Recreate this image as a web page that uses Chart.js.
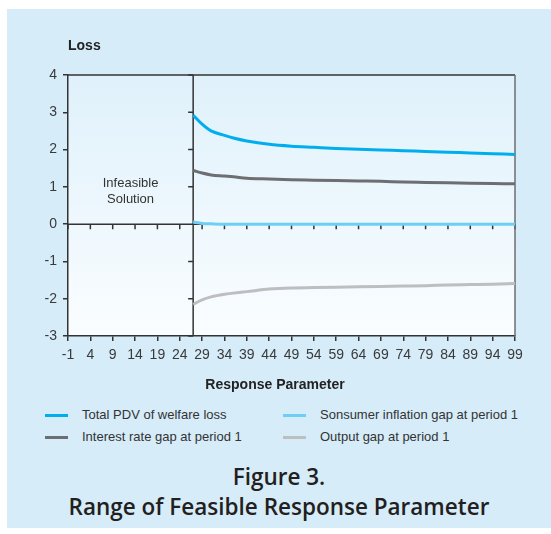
<!DOCTYPE html>
<html>
<head>
<meta charset="utf-8">
<script src="https://cdn.jsdelivr.net/npm/chart.js@4.4.1/dist/chart.umd.min.js"></script>
<style>
  html, body { margin: 0; padding: 0; background: #ffffff; }
  body { width: 551px; height: 534px; position: relative; overflow: hidden; }
  #panel { position: absolute; left: 7px; top: 9px; width: 544px; height: 519px; background: #d6ecf9; }
  #graph-container { position: absolute; left: 0; top: 0; }
  .legend-item { position: absolute; height: 20px; line-height: 20px; font-family: "Liberation Sans Narrow", "Liberation Sans", sans-serif;
    font-size: 13px; color: #333333; white-space: nowrap; }
  .legend-item .swatch { position: absolute; left: 0; top: 9px; width: 23px; height: 3px; }
  .legend-item .label { position: absolute; left: 37px; top: 0; }
  #caption { position: absolute; left: 7px; width: 544px; top: 462px; text-align: center; font-family: "Open Sans", sans-serif;
    font-weight: 600; font-size: 22.5px; line-height: 30px; color: #231f20; }
</style>
</head>
<body>
<div id="panel"></div>
<canvas id="graph-container" width="551" height="400"></canvas>
<div id="legend"></div>
<div id="caption">Figure 3.<br>Range of Feasible Response Parameter</div>
<script>
'use strict';
// response parameter values where the model has a feasible solution
var paramValues = [27, 29, 31, 34, 36, 39, 44, 49, 54, 59, 64, 69, 74, 79, 84, 89, 94, 99];
var totalPDV     = [2.92, 2.68, 2.50, 2.38, 2.31, 2.23, 2.14, 2.09, 2.06, 2.03, 2.01, 1.99, 1.97, 1.95, 1.93, 1.91, 1.89, 1.87];
var interestGap  = [1.44, 1.37, 1.32, 1.29, 1.27, 1.23, 1.21, 1.19, 1.18, 1.17, 1.16, 1.15, 1.13, 1.12, 1.11, 1.10, 1.09, 1.08];
var inflationGap = [0.06, 0.02, 0.01, 0.00, 0.00, 0.00, 0.00, 0.00, 0.00, 0.00, 0.00, 0.00, 0.00, 0.00, 0.00, 0.00, 0.00, 0.00];
var outputGap    = [-2.15, -2.03, -1.95, -1.88, -1.85, -1.81, -1.74, -1.71, -1.70, -1.69, -1.68, -1.67, -1.66, -1.65, -1.63, -1.62, -1.61, -1.59];

var xTicks = [-1, 4, 9, 14, 19, 24, 29, 34, 39, 44, 49, 54, 59, 64, 69, 74, 79, 84, 89, 94, 99];
var yTicks = [-3, -2, -1, 0, 1, 2, 3, 4];
var feasibleFrom = 27;

var seriesNames = ['Total PDV of welfare loss', 'Interest rate gap at period 1', 'Sonsumer inflation gap at period 1', 'Output gap at period 1'];
var seriesData = [totalPDV, interestGap, inflationGap, outputGap];
var seriesColors = ['#00aeef', '#6d6e71', '#6dcff6', '#bcbec0'];

var narrow = '"Liberation Sans Narrow", "Liberation Sans", sans-serif';
var axisColor = '#333333';

function toPoints(values) {
    var pts = [];
    for (var i = 0; i < paramValues.length; i++) {
        pts.push({ x: paramValues[i], y: values[i] });
    }
    return pts;
}

var datasets = [];
for (var i = 0; i < seriesNames.length; i++) {
    datasets.push({
        label: seriesNames[i],
        data: toPoints(seriesData[i]),
        borderColor: seriesColors[i],
        backgroundColor: seriesColors[i],
        borderWidth: 3,
        pointRadius: 0,
        cubicInterpolationMode: 'monotone',
        fill: false
    });
}
// draw the inflation line last so it sits on the zero line
var drawOrder = [3, 2, 4, 1];
datasets.forEach(function (d, i) { d.order = drawOrder[i]; });

var decorPlugin = {
    id: 'decor',
    beforeDraw: function (chart) {
        var ctx = chart.ctx, a = chart.chartArea;
        var g = ctx.createLinearGradient(0, a.top, 0, a.bottom);
        g.addColorStop(0, '#dff1fb');
        g.addColorStop(1, '#fafdff');
        ctx.save();
        ctx.fillStyle = g;
        ctx.fillRect(a.left, a.top, a.right - a.left, a.bottom - a.top);
        ctx.restore();
    },
    beforeDatasetsDraw: function (chart) {
        var ctx = chart.ctx, a = chart.chartArea;
        var xs = chart.scales.x, ys = chart.scales.y;
        var y0 = ys.getPixelForValue(0);
        var xf = xs.getPixelForValue(feasibleFrom);
        ctx.save();
        ctx.strokeStyle = axisColor;
        ctx.lineWidth = 1.5;
        // zero line with tick marks below it
        ctx.beginPath();
        ctx.moveTo(a.left, y0);
        ctx.lineTo(a.right, y0);
        xTicks.forEach(function (v) {
            var px = xs.getPixelForValue(v);
            ctx.moveTo(px, y0);
            ctx.lineTo(px, y0 + 5);
        });
        // boundary of the feasible region with ticks on its left
        ctx.moveTo(xf, a.top);
        ctx.lineTo(xf, a.bottom);
        yTicks.forEach(function (v) {
            var py = ys.getPixelForValue(v);
            ctx.moveTo(xf - 5, py);
            ctx.lineTo(xf, py);
        });
        ctx.stroke();
        // top and right frame
        ctx.beginPath();
        ctx.moveTo(a.left, a.top);
        ctx.lineTo(a.right, a.top);
        ctx.stroke();
        ctx.strokeStyle = '#6d6e71';
        ctx.beginPath();
        ctx.moveTo(a.right, a.top);
        ctx.lineTo(a.right, a.bottom);
        ctx.stroke();
        // infeasible note
        ctx.fillStyle = axisColor;
        ctx.font = '13px ' + narrow;
        ctx.textAlign = 'center';
        ctx.textBaseline = 'middle';
        var cx = xs.getPixelForValue(13);
        ctx.fillText('Infeasible', cx, ys.getPixelForValue(1.1));
        ctx.fillText('Solution', cx, ys.getPixelForValue(0.67));
        ctx.restore();
    },
    afterDraw: function (chart) {
        var ctx = chart.ctx, a = chart.chartArea;
        ctx.save();
        ctx.fillStyle = '#222222';
        ctx.font = 'bold 14px ' + narrow;
        ctx.textBaseline = 'middle';
        ctx.textAlign = 'left';
        ctx.fillText('Loss', a.left, 46);
        ctx.textAlign = 'center';
        ctx.fillText('Response Parameter', 275, 385);
        ctx.restore();
    }
};

var ctx = document.getElementById('graph-container');
var myChart = new Chart(ctx, {
    type: 'line',
    data: { datasets: datasets },
    options: {
        responsive: false,
        animation: false,
        devicePixelRatio: 1,
        layout: { padding: { left: 0, right: 36, top: 75, bottom: 0 } },
        plugins: { legend: { display: false }, tooltip: { enabled: false } },
        scales: {
            x: {
                type: 'linear',
                min: -1,
                max: 99,
                afterBuildTicks: function (scale) {
                    scale.ticks = xTicks.map(function (v) { return { value: v }; });
                },
                afterFit: function (scale) { scale.height = 64; },
                grid: { drawOnChartArea: false, drawTicks: true, tickLength: 5, color: axisColor, lineWidth: 1.5 },
                border: { color: axisColor, width: 1.5 },
                ticks: { autoSkip: false, maxRotation: 0, padding: 6, color: '#3a3a3a', font: { family: narrow, size: 14 } }
            },
            y: {
                min: -3,
                max: 4,
                afterBuildTicks: function (scale) {
                    scale.ticks = yTicks.map(function (v) { return { value: v }; });
                },
                afterFit: function (scale) { scale.width = 68; },
                grid: { drawOnChartArea: false, drawTicks: true, tickLength: 5, color: axisColor, lineWidth: 1.5 },
                border: { color: axisColor, width: 1.5 },
                ticks: { padding: 6, color: '#3a3a3a', font: { family: narrow, size: 14 } }
            }
        }
    },
    plugins: [decorPlugin]
});

// legend: two columns, two rows
var legendPos = [[45, 405], [45, 427], [283, 405], [283, 427]];
var legendOrder = [0, 1, 2, 3];
var legendBox = document.getElementById('legend');
legendOrder.forEach(function (s, k) {
    var item = document.createElement('div');
    item.className = 'legend-item';
    item.style.left = legendPos[k][0] + 'px';
    item.style.top = legendPos[k][1] + 'px';
    var sw = document.createElement('span');
    sw.className = 'swatch';
    sw.style.background = seriesColors[s];
    var lab = document.createElement('span');
    lab.className = 'label';
    lab.textContent = seriesNames[s];
    item.appendChild(sw);
    item.appendChild(lab);
    legendBox.appendChild(item);
});
</script>
</body>
</html>
